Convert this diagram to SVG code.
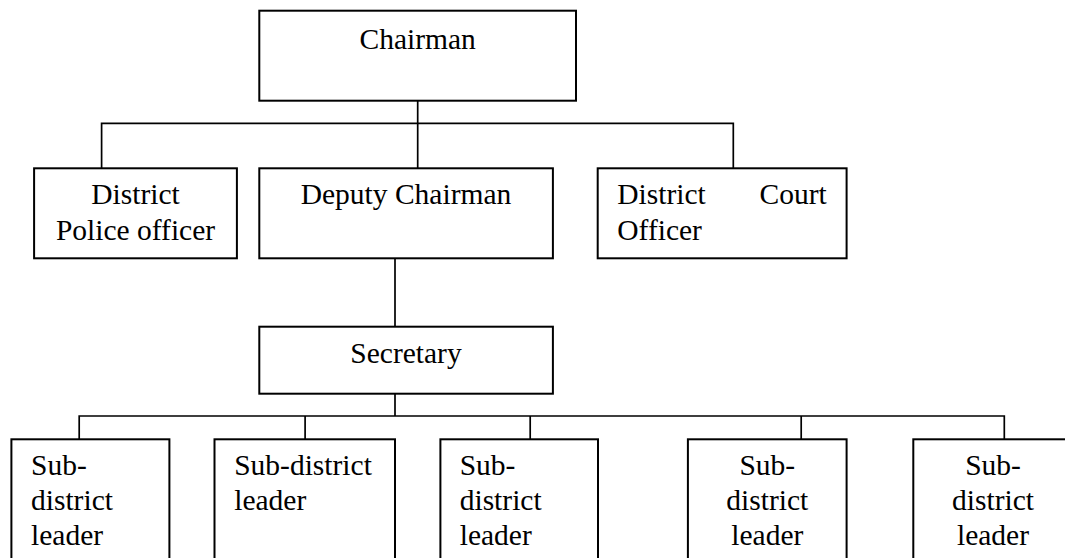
<svg xmlns="http://www.w3.org/2000/svg" width="1065" height="558" viewBox="0 0 1065 558">
<style>
.box{fill:#fff;stroke:#000;stroke-width:2}
.ln{fill:none;stroke:#000;stroke-width:1.7}
text{font-family:"Liberation Serif","Times New Roman",serif;font-size:29.5px;fill:#000}
.c{text-anchor:middle}
</style>
<rect width="1065" height="558" fill="#fff"/>
<g id="connectors">
<path class="ln" d="M417.7 100.7V123.3M101.6 168.3V123.3H733.3V168.3M417.7 123.3V168.3"/>
<path class="ln" d="M395 258.3V326.7M395 393.7V416M79.2 439.3V416H1004.3V439.3M305.1 416V439.3M530.2 416V439.3M801.2 416V439.3"/>
</g>
<g id="chairman">
<rect class="box" x="259.3" y="10.7" width="316.7" height="90"/>
<text class="c" x="417.7" y="49.3">Chairman</text>
</g>
<g id="police">
<rect class="box" x="34.1" y="168.3" width="202.8" height="90"/>
<text class="c" x="135.5" y="204.3">District</text>
<text class="c" x="135.5" y="240">Police officer</text>
</g>
<g id="deputy">
<rect class="box" x="259.3" y="168.3" width="293.6" height="90"/>
<text class="c" x="406" y="204.3">Deputy Chairman</text>
</g>
<g id="court">
<rect class="box" x="597.7" y="168.3" width="248.9" height="90"/>
<text x="617.3" y="204.3">District</text>
<text x="826.7" y="204.3" text-anchor="end">Court</text>
<text x="617.3" y="240">Officer</text>
</g>
<g id="secretary">
<rect class="box" x="259.3" y="326.7" width="293.6" height="67"/>
<text class="c" x="406" y="363">Secretary</text>
</g>
<g id="sub1">
<rect class="box" x="11.4" y="439.3" width="158" height="130"/>
<text x="31" y="475">Sub-</text>
<text x="31" y="510">district</text>
<text x="31" y="545">leader</text>
</g>
<g id="sub2">
<rect class="box" x="214.5" y="439.3" width="180.5" height="130"/>
<text x="234.2" y="475">Sub-district</text>
<text x="234.2" y="510">leader</text>
</g>
<g id="sub3">
<rect class="box" x="440.4" y="439.3" width="157.6" height="130"/>
<text x="459.7" y="475">Sub-</text>
<text x="459.7" y="510">district</text>
<text x="459.7" y="545">leader</text>
</g>
<g id="sub4">
<rect class="box" x="687.9" y="439.3" width="158.7" height="130"/>
<text class="c" x="767.3" y="475">Sub-</text>
<text class="c" x="767.3" y="510">district</text>
<text class="c" x="767.3" y="545">leader</text>
</g>
<g id="sub5">
<rect class="box" x="913.3" y="439.3" width="159" height="130"/>
<text class="c" x="993" y="475">Sub-</text>
<text class="c" x="993" y="510">district</text>
<text class="c" x="993" y="545">leader</text>
</g>
</svg>
